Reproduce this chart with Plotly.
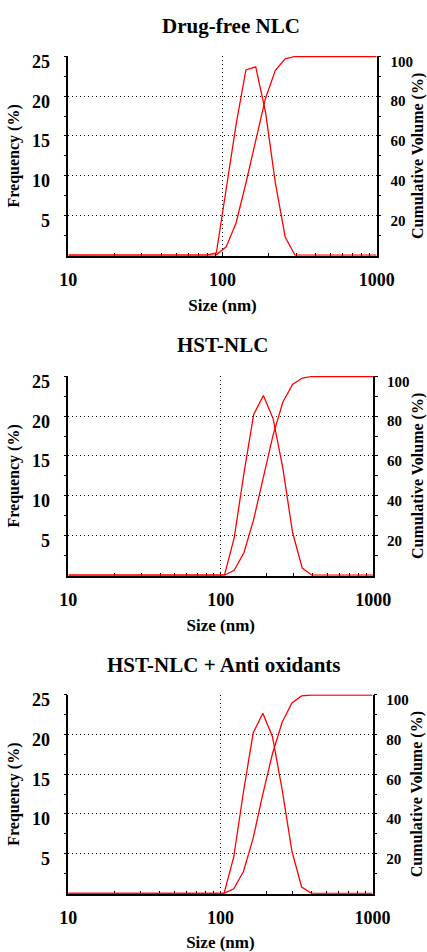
import plotly.graph_objects as go

# Size bins (nm)
sizes = [10, 68.06, 78.82, 91.28, 105.7, 122.4, 141.8, 164.2, 190.1, 220.2,
         255.0, 295.3, 342.0, 396.1, 458.7, 1000]

titles = ["Drug-free NLC", "HST-NLC", "HST-NLC + Anti oxidants"]

freq_drugfree = [0, 0, 0, 0.3, 8.3, 16.4, 23.3, 23.7, 18.0, 9.1, 2.3, 0, 0, 0, 0, 0]
cum_drugfree = [0, 0, 0, 0.2, 4.2, 16.2, 36.2, 57.9, 79.0, 93.0, 98.8, 100, 100, 100, 100, 100]

freq_hst = [0, 0, 0, 0, 0, 4.7, 12.8, 20.2, 22.6, 19.7, 13.5, 5.4, 0.9, 0, 0, 0]
cum_hst = [0, 0, 0, 0, 0, 2.5, 11.3, 28.0, 49.0, 70.5, 87.0, 96.0, 99.2, 100, 100, 100]

freq_hst_ao = [0, 0, 0, 0, 0, 4.6, 12.8, 20.2, 22.7, 19.7, 13.0, 5.3, 0.8, 0, 0, 0]
cum_hst_ao = [0, 0, 0, 0, 0, 2.3, 11.0, 27.8, 50.0, 70.5, 86.4, 96.0, 99.5, 100, 100, 100]

x_ticks = [10, 100, 1000]
x_minor = [20, 30, 40, 50, 60, 70, 80, 90, 200, 300, 400, 500, 600, 700, 800, 900]
yl_ticks = [5, 10, 15, 20, 25]
yl_minor = [2.5, 7.5, 12.5, 17.5, 22.5]
yr_ticks = [20, 40, 60, 80, 100]
yr_minor = [10, 30, 50, 70, 90]

W, H = 427, 952
# plot areas in pixels: (x0, x1, y0_top, y1_bottom)
areas = [(68.3, 376.7, 56, 255.7), (68.3, 373.3, 376, 575.7), (68.3, 372.5, 694.5, 893.8)]
title_pos = [(231, 26), (222, 345), (224, 665)]

FONT = "Liberation Serif"
RED = "#ff0000"
series = [(freq_drugfree, cum_drugfree), (freq_hst, cum_hst), (freq_hst_ao, cum_hst_ao)]

fig = go.Figure()
layout = dict(template="none", width=W, height=H, margin=dict(l=0, r=0, t=0, b=0, pad=0),
              paper_bgcolor="white", plot_bgcolor="white", showlegend=False,
              font=dict(family=FONT, color="black"), annotations=[])

grid = dict(showgrid=True, gridcolor="black", gridwidth=1, griddash="1px,3px")

for i, ((freq, cum), (x0, x1, yt, yb)) in enumerate(zip(series, areas)):
    xn = "x" if i == 0 else f"x{i+1}"
    yl = f"y{2*i+1}" if i > 0 else "y"
    yr = f"y{2*i+2}"
    fig.add_trace(go.Scatter(x=sizes, y=freq, mode="lines", xaxis=xn, yaxis=yl,
                             line=dict(color=RED, width=1.3), name="Frequency"))
    fig.add_trace(go.Scatter(x=sizes, y=cum, mode="lines", xaxis=xn, yaxis=yr,
                             line=dict(color=RED, width=1.3), name="Cumulative"))
    xdom = [x0 / W, x1 / W]
    ydom = [1 - yb / H, 1 - yt / H]
    xkey = "xaxis" if i == 0 else f"xaxis{i+1}"
    ylkey = "yaxis" if i == 0 else f"yaxis{2*i+1}"
    yrkey = f"yaxis{2*i+2}"
    layout[xkey] = dict(
        type="log", range=[1, 3], domain=xdom, anchor=yl, automargin=False,
        showline=True, linecolor="black", linewidth=1.5, layer="below traces",
        tickvals=x_ticks, ticktext=[str(v) for v in x_ticks],
        ticks="inside", ticklen=3, tickcolor="black", tickwidth=1,
        minor=dict(tickvals=x_minor, ticks="inside", ticklen=3, tickcolor="black", showgrid=False),
        tickfont=dict(size=18, family=FONT, weight="bold"), ticklabelstandoff=7,
        zeroline=False, **grid,
        title=dict(text="Size (nm)", font=dict(size=17, family=FONT, weight="bold"), standoff=10),
    )
    layout[ylkey] = dict(
        range=[-0.06, 25.06], domain=ydom, anchor=xn, automargin=False,
        showline=True, linecolor="black", linewidth=1.5, layer="below traces",
        tickvals=yl_ticks, ticks="outside", ticklen=3, tickcolor="black",
        minor=dict(tickvals=yl_minor, ticks="outside", ticklen=3, tickcolor="black", showgrid=False),
        tickfont=dict(size=18, family=FONT, weight="bold"), ticklabelstandoff=10, ticklabelshift=5,
        zeroline=False, **grid,
        title=dict(text="Frequency (%)", font=dict(size=16, family=FONT, weight="bold"), standoff=8),
    )
    layout[yrkey] = dict(
        range=[-0.24, 100.24], overlaying=yl, side="right", anchor=xn, automargin=False,
        showline=True, linecolor="black", linewidth=1.5, layer="below traces",
        tickvals=yr_ticks, ticks="outside", ticklen=3, tickcolor="black",
        minor=dict(tickvals=yr_minor, ticks="outside", ticklen=3, tickcolor="black", showgrid=False),
        tickfont=dict(size=15, family=FONT, weight="bold"), ticklabelstandoff=6, ticklabelshift=5,
        showgrid=False, zeroline=False,
        title=dict(text="Cumulative Volume (%)", font=dict(size=16, family=FONT, weight="bold"), standoff=3),
    )
    tx, ty = title_pos[i]
    layout["annotations"].append(dict(
        text=titles[i], x=tx / W, y=1 - ty / H, xref="paper", yref="paper",
        xanchor="center", yanchor="middle", showarrow=False,
        font=dict(size=21, family=FONT, weight="bold", color="black")))

fig.update_layout(**layout)
fig.write_html("out.html")
